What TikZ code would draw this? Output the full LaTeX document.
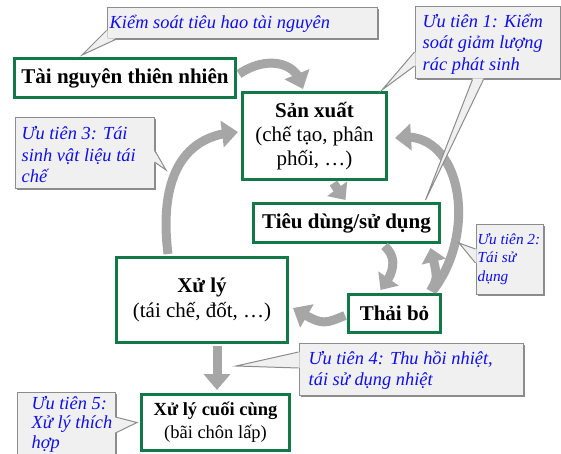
\documentclass[tikz,border=0pt]{standalone}
\usepackage{fontspec}
\setmainfont{Liberation Serif}
\usetikzlibrary{arrows.meta,calc,shadows,bending}
\definecolor{boxgreen}{RGB}{18,120,72}
\definecolor{calfill}{RGB}{240,240,240}
\definecolor{calline}{RGB}{140,140,140}
\definecolor{caltext}{RGB}{15,15,235}
\definecolor{arrowgray}{RGB}{166,166,166}
\tikzset{
  gbox/.style={draw=boxgreen, line width=3pt, fill=white, align=center, inner sep=0pt,
    font=\fontsize{21}{24}\selectfont},
  callbox/.style={draw=calline, line width=1pt, fill=calfill, inner sep=0pt,
    drop shadow={shadow xshift=1.5pt, shadow yshift=-1.5pt, fill=black!45, opacity=1}},
  caltxt/.style={text=caltext, align=left, inner sep=0pt,
    font=\fontsize{18.4}{21.5}\selectfont\itshape},
  garrow/.style={draw=arrowgray, line width=9pt, -{Triangle[width=26pt,length=16pt,flex]}},
  garrowsmall/.style={draw=arrowgray, line width=9pt, -{Triangle[width=24pt,length=14pt,flex]}},
  tailline/.style={draw=calline, line width=1pt},
}
\begin{document}
\begin{tikzpicture}[x=1pt,y=-1pt]
\useasboundingbox (0,0) rectangle (561,454);

% main boxes
\node[gbox, minimum width=221, minimum height=39] (tn) at (125,78) {\textbf{Tài nguyên thiên nhiên}};
\node[gbox, minimum width=144, minimum height=87] (sx) at (314.5,136) {\textbf{Sản xuất}\\(chế tạo, phân\\phối, …)};
\node[gbox, minimum width=186, minimum height=39] (td) at (346.5,223) {\textbf{Tiêu dùng/sử dụng}};
\node[gbox, minimum width=171, minimum height=85, font=\fontsize{21}{25}\selectfont] (xl) at (202,300) {\textbf{Xử lý}\\(tái chế, đốt, …)};
\node[gbox, minimum width=92, minimum height=38] (tb) at (394.5,313.5) {\textbf{Thải bỏ}};
\node[gbox, minimum width=148, minimum height=56, font=\fontsize{18.5}{23}\selectfont] (xc) at (215.5,422.5) {\textbf{Xử lý cuối cùng}\\(bãi chôn lấp)};

% gray arrows
\draw[garrow] ($(tn.east)+(2,-4)$) .. controls (265,56) and (298,60) .. ($(sx.north west)+(62,-2)$);
\draw[garrowsmall] ($(sx.south)+(19,2)$) .. controls (338,190) .. ($(td.north)+(-1,-2)$);
\draw[garrowsmall] ($(td.south)+(38,2)$) .. controls (398,258) and (394,274) .. ($(tb.north)+(-14,-3)$);
\draw[garrowsmall] ($(tb.north)+(36,-2)$) .. controls (438,278) .. ($(td.south)+(84,4)$);
\draw[garrow] ($(tb.north)+(38,-2)$) .. controls (480,230) and (460,125) .. ($(sx.east)+(7,2)$);
\draw[garrow] ($(tb.west)+(-2,2)$) .. controls (322,325) .. ($(xl.east)+(4,8)$);
\draw[garrow] ($(xl.north west)+(53,-2)$) .. controls (160,190) and (175,135) .. ($(sx.west)+(-3,-4)$);
\draw[garrow] ($(xl.south)+(15,2)$) -- ($(xc.north)+(1.5,-3)$);

% tail tips
\coordinate (t0) at ($(tn.north west)+(69,-2)$);
\coordinate (t1a) at ($(sx.north east)+(-6,-1)$);
\coordinate (t1b) at ($(td.north)+(79,-2)$);
\coordinate (t3) at (166,170);
\coordinate (t2) at (459,243);
\coordinate (t4) at (236,366);
\coordinate (t5) at ($(xc.west)+(-3,0)$);

% callouts
\node[callbox, minimum width=270, minimum height=31] (c0) at (242,23.5) {};
\node[callbox, minimum width=145, minimum height=72] (c1) at (487.5,43) {};
\node[callbox, minimum width=139, minimum height=71] (c3) at (84.5,153.5) {};
\node[callbox, minimum width=67, minimum height=70] (c2) at (509.5,259) {};
\node[callbox, minimum width=224, minimum height=52] (c4) at (411,369) {};
\node[callbox, minimum width=98, minimum height=80] (c5) at (66,432) {};

% tails
\fill[calfill] ($(c0.south west)+(1,-9)$) -- (t0) -- ($(c0.south west)+(9,-1)$) -- ($(c0.south west)+(1,-1)$) -- cycle;
\draw[tailline] ($(c0.south west)+(0,-9)$) -- (t0) -- ($(c0.south west)+(9,0)$);

\fill[calfill] ($(c1.west)+(1,9)$) -- (t1a) -- ($(c1.west)+(1,23)$) -- cycle;
\draw[tailline] ($(c1.west)+(0,9)$) -- (t1a) -- ($(c1.west)+(0,23)$);
\fill[calfill] ($(c1.south)+(-15,-1)$) -- (t1b) -- ($(c1.south)+(-4,-1)$) -- cycle;
\draw[tailline] ($(c1.south)+(-15,0)$) -- (t1b) -- ($(c1.south)+(-4,0)$);

\fill[calfill] ($(c3.east)+(-1,-3.5)$) -- (t3) -- ($(c3.east)+(-1,8.5)$) -- cycle;
\draw[tailline] ($(c3.east)+(0,-3.5)$) -- (t3) -- ($(c3.east)+(0,8.5)$);

\fill[calfill] ($(c2.west)+(1,-10)$) -- (t2) -- ($(c2.west)+(1,4)$) -- cycle;
\draw[tailline] ($(c2.west)+(0,-10)$) -- (t2) -- ($(c2.west)+(0,4)$);

\fill[calfill] ($(c4.west)+(1,-17)$) -- (t4) -- ($(c4.west)+(1,-1)$) -- cycle;
\draw[tailline] ($(c4.west)+(0,-17)$) -- (t4) -- ($(c4.west)+(0,-1)$);

\fill[calfill] ($(c5.east)+(-1,-15)$) -- (t5) -- ($(c5.east)+(-1,1)$) -- cycle;
\draw[tailline] ($(c5.east)+(0,-15)$) -- (t5) -- ($(c5.east)+(0,1)$);

% callout texts
\node[caltxt, anchor=west] (c0t) at ($(c0.west)+(3,0)$) {Kiểm soát tiêu hao tài nguyên};
\node[caltxt, anchor=west] (c1t) at ($(c1.west)+(8,1)$) {Ưu tiên 1: Kiểm\\soát giảm lượng\\rác phát sinh};
\node[caltxt, anchor=west] (c3t) at ($(c3.west)+(7,1.5)$) {Ưu tiên 3: Tái\\sinh vật liệu tái\\chế};
\node[caltxt, anchor=west, font=\fontsize{15.3}{18.5}\selectfont\itshape] (c2t) at ($(c2.west)+(2,0)$) {Ưu tiên 2:\\Tái sử\\dụng};
\node[caltxt, anchor=west] (c4t) at ($(c4.west)+(10,1.5)$) {Ưu tiên 4: Thu hồi nhiệt,\\tái sử dụng nhiệt};
\node[caltxt, anchor=west, font=\fontsize{18.4}{19.5}\selectfont\itshape] (c5t) at ($(c5.west)+(15,-8)$) {Ưu tiên 5:\\Xử lý thích\\hợp};
\end{tikzpicture}
\end{document}
